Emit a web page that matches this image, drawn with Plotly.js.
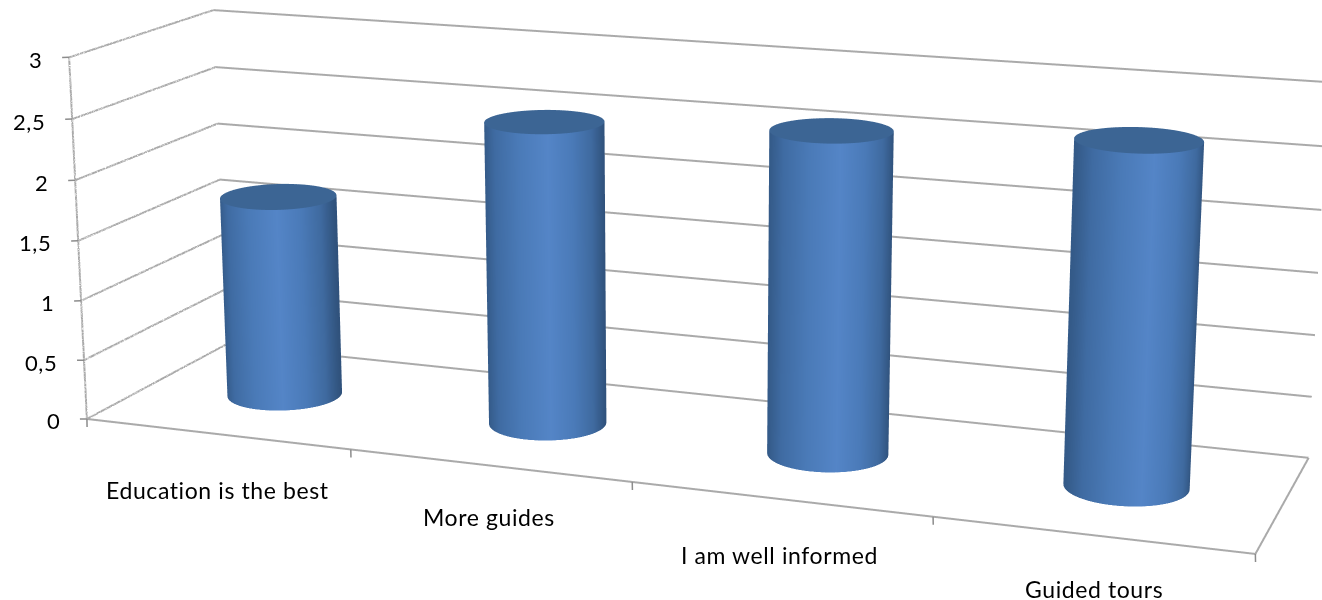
<!DOCTYPE html>
<html><head><meta charset="utf-8">
<script src="https://cdn.plot.ly/plotly-3.0.1.min.js"></script>
<style>html,body{margin:0;padding:0;background:#fff;overflow:hidden}#wrap{position:relative;width:1322px;height:600px;overflow:hidden}#g{position:absolute}
.annotation-text{letter-spacing:.6px}</style>
</head><body><div id="wrap"><div id="g"></div></div>
<script>
const categories=['Education is the best','More guides','I am well informed','Guided tours'];
const values=[1.7,2.5,2.6,2.7];
const zTicks=[0,.5,1,1.5,2,2.5,3];
const zLabels=['0','0,5','1','1,5','2','2,5','3'];
const xTicks=[.5,1.5,2.5,3.5,4.5];
// Camera and box proportions of the 3D scene
const ay=0.2495,az=0.3142,ex=0.8540,ey=-2.3414,ez=0.6284,f=3108.852,cx=685.7176,cy=256.3717;
const Hs=Math.round(f/1.20711),Sw=Math.round(2*Math.max(cx,1322-cx)+20);
const g=document.getElementById('g');g.style.left=(cx-Sw/2)+'px';g.style.top=(cy-Hs/2)+'px';
const stops=[[0,'#345a88'],[.1,'#3f6ba2'],[.3,'#4a7ab7'],[.55,'#5485c7'],[.75,'#4a7ab8'],[.9,'#3f6a9f'],[1,'#30527c']];
const flat={ambient:1,diffuse:0,specular:0,fresnel:0,roughness:1};
const rn=Math.hypot(ex,ey),rx=-ey/rn,ry_=ex/rn;
// One cylinder: shaded side wall plus a flat top cap, reaching up to the value
function cyl(c,v){const N=96,r=0.2,ry=0.05/ay;const X=[],Y=[],Z=[],I=[],i=[],j=[],k=[];
 for(let a=0;a<N;a++){const t=2*Math.PI*a/N,cs=Math.cos(t),sn=Math.sin(t),u=(cs*rx+sn*ry_+1)/2;X.push(c+r*cs,c+r*cs);Y.push(.5+ry*sn,.5+ry*sn);Z.push(0,v);I.push(u,u);
  const b=(a+1)%N;i.push(2*a,2*a+1);j.push(2*b,2*b);k.push(2*a+1,2*b+1);}
 const cap={type:'mesh3d',x:[c].concat(X.filter((_,q)=>q%2)),y:[.5].concat(Y.filter((_,q)=>q%2)),z:[v].concat(Z.filter((_,q)=>q%2)),i:[],j:[],k:[],color:'#3c6594',lighting:flat,hoverinfo:'skip'};
 for(let a=0;a<N;a++){cap.i.push(0);cap.j.push(a+1);cap.k.push((a+1)%N+1);}
 return [{type:'mesh3d',x:X,y:Y,z:Z,i,j,k,intensity:I,colorscale:stops,cmin:0,cmax:1,showscale:false,lighting:flat,hoverinfo:'skip'},cap];}
const traces=[];values.forEach((v,n)=>traces.push(...cyl(n+1,v)));
// Wall grid lines at each value tick, plus the floor outline and value axis
const lineStyle={color:'#aaaaaa',width:4};
const xLo=.5,xHi=4.5;
zTicks.forEach(t=>traces.push({type:'scatter3d',mode:'lines',x:[xLo,xLo,xHi],y:[0,1,1],z:[t,t,t],line:lineStyle,hoverinfo:'skip'}));
traces.push({type:'scatter3d',mode:'lines',x:[xLo,xHi,xHi],y:[0,0,1],z:[0,0,0],line:lineStyle,hoverinfo:'skip'});
traces.push({type:'scatter3d',mode:'lines',x:[xLo,xLo],y:[0,0],z:[0,3],line:lineStyle,hoverinfo:'skip'});
const base={showbackground:false,showspikes:false,zeroline:false,showgrid:false,showticklabels:false,ticks:'',title:{text:''}};
const font={family:'Lato, Carlito, sans-serif',size:23,color:'#000'};
const zfont={family:'Lato, Carlito, sans-serif',size:22,color:'#000'};
const ann=[];
const tick={text:' ',showarrow:true,arrowhead:0,arrowwidth:1.5,arrowcolor:'#8c8c8c',standoff:0,startstandoff:0,font:{size:1}};
zTicks.forEach((t,n)=>{
 ann.push({x:xLo,y:0,z:t,text:zLabels[n],showarrow:false,xanchor:'right',xshift:-25,yshift:-2,font:zfont});
 ann.push({...tick,x:xLo,y:0,z:t,ax:-9,ay:0.2});
});
xTicks.forEach(t=>ann.push({...tick,x:t,y:0,z:0,ax:0.2,ay:10}));
const shifts=[[1,56],[0,52],[-1,56],[3,54]];
categories.forEach((t,n)=>ann.push({x:n+1,y:0,z:0,text:t,showarrow:false,xshift:shifts[n][0],yshift:-shifts[n][1],font}));
Plotly.newPlot('g',traces,{width:Sw,height:Hs,margin:{l:0,r:0,t:0,b:0},showlegend:false,separators:',.',paper_bgcolor:'#fff',
 scene:{domain:{x:[0,1],y:[0,1]},aspectmode:'manual',aspectratio:{x:1,y:ay,z:az},camera:{eye:{x:ex,y:ey,z:ez},center:{x:0,y:0,z:0},up:{x:0,y:0,z:1}},annotations:ann,
 xaxis:{...base,range:[xLo,xHi]},
 yaxis:{...base,range:[0,1]},
 zaxis:{...base,range:[0,3]}}},{displayModeBar:false});
</script></body></html>
